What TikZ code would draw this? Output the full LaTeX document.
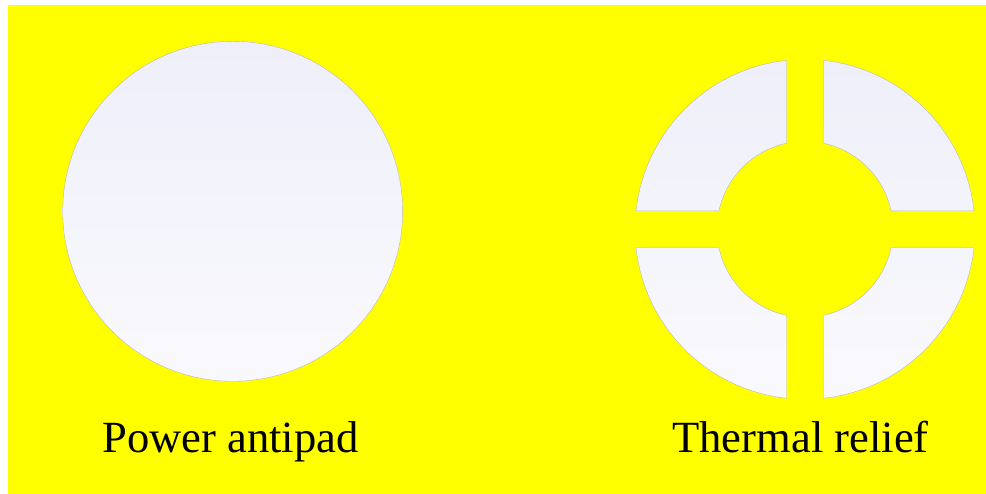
\documentclass[tikz,border=0pt]{standalone}
\usepackage{fontspec}
\setmainfont{Liberation Serif}
\begin{document}
\begin{tikzpicture}[x=1pt,y=1pt,
  padfill/.style={top color=padtop,bottom color=padbot,draw=gray!55,line width=0.4pt},
  label/.style={anchor=base,inner sep=0pt,font=\fontsize{44.6}{50}\selectfont,text=black}]
\definecolor{padtop}{HTML}{EFEFFA}
\definecolor{padbot}{HTML}{F9F9FD}
\definecolor{bgyellow}{HTML}{FFFF00}
\useasboundingbox (0,0) rectangle (986,494);
\fill[white] (0,0) rectangle (986,494);
\fill[bgyellow] (8,0) rectangle (986,489);
% Power antipad
\path[padfill] (232.7,282.7) circle[radius=170];
\node[label] (pa) at (230.5,41) {Power antipad};
% Thermal relief
\def\ri{88}\def\ro{170}
\def\aone{6.25}\def\atwo{12.13}
\begin{scope}[shift={(805,264.7)}]
\path[padfill]
  \foreach \t in {0,90,180,270}{
    ({\t+90-\atwo}:\ri) -- ({\t+90-\aone}:\ro)
      arc[start angle={\t+90-\aone},end angle={\t+\aone},radius=\ro]
      -- ({\t+\atwo}:\ri)
      arc[start angle={\t+\atwo},end angle={\t+90-\atwo},radius=\ri] -- cycle
  };
\end{scope}
\node[label] (tr) at (800.5,41) {Thermal relief};
\end{tikzpicture}
\end{document}
